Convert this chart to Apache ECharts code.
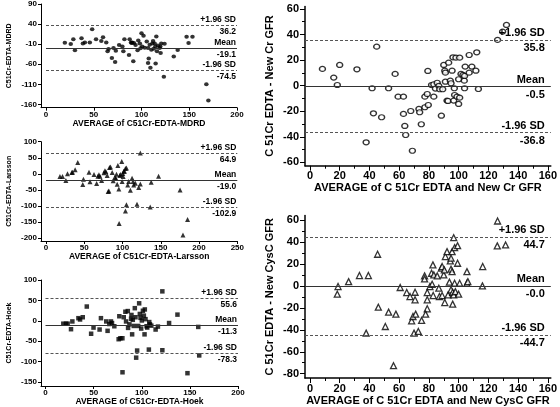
<!DOCTYPE html>
<html><head><meta charset="utf-8">
<script src="https://cdn.jsdelivr.net/npm/echarts@6/dist/echarts.min.js"></script>
<style>html,body{margin:0;padding:0;background:#fff}#c{width:560px;height:407px}</style>
</head><body><div id="c"></div>
<script>
// ---------- data ----------
const mdrdPoints = [[19.7,-6.4],[25.9,-9.7],[28.6,2.6],[30.3,-25.3],[37.2,5.0],[38.6,-8.1],[40.7,-5.6],[45.9,-5.6],[48.3,27.2],[52.4,2.6],[57.9,-2.3],[59.7,7.5],[63.1,-5.6],[64.5,-27.8],[65.5,-22.0],[69.0,-44.2],[70.7,-19.6],[72.4,-54.0],[73.1,-26.1],[76.6,-12.2],[80.0,-15.5],[81.0,-27.8],[82.1,2.6],[86.9,-36.8],[87.6,2.6],[89.0,-5.6],[89.7,-7.3],[90.3,-5.6],[91.4,-52.4],[92.1,-7.3],[93.8,-12.2],[95.9,-25.3],[96.6,-0.7],[98.3,-8.1],[99.0,-20.4],[100.0,17.3],[100.7,-15.5],[102.1,10.8],[103.4,-18.7],[105.5,-3.2],[106.9,-56.5],[106.9,-19.6],[107.6,-45.8],[108.6,-11.4],[109.3,-68.8],[110.3,-23.7],[111.4,-8.1],[112.1,-2.3],[112.8,-21.2],[113.8,-8.1],[114.5,-15.5],[114.8,-58.1],[115.5,9.1],[116.2,-27.8],[117.2,-13.0],[119.0,-19.6],[119.7,-15.5],[120.0,-31.9],[120.7,-8.1],[124.1,-8.9],[123.4,-90.9],[133.8,-40.9],[137.9,-24.5],[147.2,8.3],[149.3,-7.3],[153.4,8.3],[167.9,-109.8],[170.0,-150.0]];
const larssonPoints = [[18.2,-8.1],[21.6,-8.1],[26.0,-20.6],[28.1,0.3],[33.7,4.5],[34.6,5.5],[38.1,12.8],[41.5,35.7],[48.9,-16.4],[48.0,-33.0],[56.2,5.5],[57.5,-24.7],[62.7,-1.8],[66.2,-29.9],[67.9,-7.0],[69.2,-2.8],[70.5,-7.0],[72.7,-20.6],[75.7,3.4],[77.0,9.7],[78.3,6.5],[80.0,-4.9],[81.3,-55.0],[82.2,-52.9],[83.0,20.1],[84.3,21.1],[86.5,4.5],[87.8,-21.6],[90.0,-10.1],[91.3,-13.3],[92.1,-0.8],[93.0,-32.0],[93.9,26.3],[95.2,-46.6],[95.6,-154.0],[96.5,-4.9],[97.3,-1.8],[99.0,38.8],[99.5,-23.7],[100.3,1.3],[100.8,-8.1],[101.6,8.6],[102.5,8.6],[103.8,17.0],[103.8,-115.4],[105.1,18.0],[105.1,-95.6],[106.8,-34.1],[108.1,-23.7],[110.3,-50.8],[112.5,-13.3],[113.8,-23.7],[114.6,-34.1],[116.8,-28.9],[118.9,-94.6],[121.1,-42.4],[123.3,-31.0],[123.3,64.9],[137.5,-25.8],[136.2,-102.9],[147.1,-7.0],[175.2,-50.0],[185.0,-141.5],[179.0,-190.0]];
const hoekPoints = [[18.5,-7.0],[21.3,-7.0],[23.0,-7.0],[26.5,-20.5],[27.9,-1.5],[34.2,6.5],[35.9,3.3],[38.7,8.8],[42.9,35.0],[47.4,-31.6],[49.9,-16.5],[56.2,-21.3],[57.6,6.5],[63.1,-1.5],[64.5,-24.5],[66.3,-7.8],[68.0,-1.5],[69.1,-5.4],[71.5,-13.3],[76.0,-45.0],[76.7,11.2],[77.8,-42.7],[79.9,-42.7],[81.3,8.8],[83.0,22.3],[83.7,-1.5],[85.5,23.9],[85.8,-17.3],[87.2,-8.6],[88.9,4.9],[89.3,14.4],[90.0,-33.1],[90.7,2.5],[91.7,-12.5],[92.8,31.0],[93.5,8.8],[94.2,-90.2],[95.2,-72.8],[96.3,-12.5],[97.3,42.9],[98.0,16.8],[98.7,7.3],[99.4,-18.9],[100.1,0.9],[101.2,24.7],[102.2,12.8],[102.9,-33.1],[103.2,27.9],[103.9,4.1],[105.0,-13.3],[105.7,-16.5],[107.4,-70.4],[107.8,-3.0],[108.5,-8.6],[109.9,-11.8],[114.4,-21.3],[116.8,-14.1],[121.4,72.2],[121.4,-72.0],[128.4,-5.4],[137.1,15.2],[147.5,-128.2],[158.7,-14.9],[159.7,-84.7],[80.0,-126.0]];
const newCrPoints = [[8.4,13.1],[16.0,6.3],[18.4,0.5],[20.0,16.2],[31.6,12.8],[44.9,30.5],[41.8,-2.0],[42.7,-21.6],[48.2,-24.7],[52.9,-2.0],[57.3,9.2],[59.3,-8.6],[62.9,-8.6],[62.9,-22.1],[63.8,-31.5],[64.4,-38.6],[37.8,-44.3],[68.9,-50.9],[67.8,-19.8],[73.3,-18.2],[73.8,-20.8],[74.9,-30.2],[77.3,-16.9],[77.3,-8.6],[79.3,11.5],[78.9,-6.5],[79.6,-15.1],[81.8,0.5],[83.3,1.1],[84.4,-2.3],[83.3,-8.6],[85.6,2.3],[86.7,-0.2],[87.3,-2.8],[89.3,-2.8],[88.4,-23.5],[90.0,16.2],[90.7,11.7],[91.1,10.2],[91.1,3.1],[92.2,-11.7],[92.9,-12.0],[93.3,18.0],[94.4,3.9],[94.9,1.9],[95.6,11.7],[96.2,22.2],[96.7,-11.7],[97.1,-2.0],[97.3,-7.3],[98.2,21.9],[98.9,-8.6],[100.0,5.0],[100.7,21.9],[100.7,-9.4],[100.0,-14.3],[101.6,9.2],[102.9,8.4],[103.8,3.9],[104.0,-2.0],[104.0,7.6],[104.4,14.9],[107.1,24.0],[107.1,10.2],[108.9,14.9],[111.6,11.7],[112.2,26.1],[113.3,-2.6],[126.2,35.8],[129.6,42.3],[132.2,47.5]];
const newCysCPoints = [[18.9,-0.6],[18.4,-7.6],[26.0,3.9],[33.3,9.4],[39.3,9.4],[37.8,-43.0],[45.5,28.8],[46.0,-19.4],[50.7,-37.0],[52.9,-23.9],[56.2,-72.7],[57.8,-25.7],[60.7,-1.5],[65.1,-6.1],[67.3,-9.7],[68.4,-31.8],[69.3,-27.9],[70.7,-5.8],[70.7,-12.7],[71.1,-25.7],[70.0,-43.0],[72.9,-41.5],[75.1,-31.5],[77.1,9.1],[77.1,6.4],[78.9,-6.1],[78.9,-12.7],[78.9,-20.9],[77.8,-25.7],[80.7,-0.6],[81.8,11.5],[82.2,1.5],[82.7,19.1],[82.9,-8.8],[83.3,10.0],[85.6,9.1],[86.7,-2.1],[87.1,-9.7],[88.4,16.1],[88.9,17.6],[88.9,-8.8],[90.0,10.0],[90.4,14.5],[90.7,-15.2],[91.1,26.7],[92.2,31.2],[92.9,-8.2],[93.8,3.4],[94.4,22.7],[94.9,25.2],[94.9,15.2],[94.9,-3.6],[95.6,31.2],[95.6,13.0],[96.0,-5.8],[96.0,-16.6],[96.7,43.9],[96.7,-8.2],[97.3,34.8],[97.3,2.4],[97.8,-5.2],[99.3,20.6],[99.3,36.6],[100.0,-7.6],[100.7,2.4],[105.6,13.0],[105.6,2.4],[106.2,3.9],[116.2,17.6],[116.0,0.0],[126.0,36.4],[131.6,37.3],[126.2,59.1]];

// limits: [+1.96 SD, mean, -1.96 SD]
const mdrdLimits = [36.2, -19.1, -74.5];
const larssonLimits = [64.9, -19.0, -102.9];
const hoekLimits = [55.6, -11.3, -78.3];
const newCrLimits = [35.8, -0.5, -36.8];
const newCysCLimits = [44.7, -0.04, -44.7];
const limitNames = ['+1.96 SD', 'Mean', '-1.96 SD'];

// tick labels
const mdrdXTicks = [0, 50, 100, 150, 200];
const mdrdYTicks = [-160, -110, -60, -10, 40, 90];
const larssonXTicks = [0, 50, 100, 150, 200, 250];
const larssonYTicks = [-200, -150, -100, -50, 0, 50, 100];
const hoekXTicks = [0, 50, 100, 150, 200];
const hoekYTicks = [-150, -100, -50, 0, 50, 100];
const rightXTicks = [0, 20, 40, 60, 80, 100, 120, 140, 160];
const rightXMinor = [10, 30, 50, 70, 90, 110, 130, 150];
const newCrYTicks = [-60, -40, -20, 0, 20, 40, 60];
const newCrYMinor = [-50, -30, -10, 10, 30, 50];
const newCysCYTicks = [-80, -60, -40, -20, 0, 20, 40, 60];
const newCysCYMinor = [-70, -50, -30, -10, 10, 30, 50];

// axis titles
const xNames = ['AVERAGE of C51Cr-EDTA-MDRD', 'AVERAGE of C51Cr-EDTA-Larsson', 'AVERAGE of C51Cr-EDTA-Hoek',
  'AVERAGE of C 51Cr EDTA and New Cr GFR', 'AVERAGE of C 51Cr EDTA and New CysC GFR'];
const yNames = ['C51Cr-EDTA-MDRD', 'C51Cr-EDTA-Larsson', 'C51Cr-EDTA-Hoek',
  'C 51Cr EDTA - New Cr GFR', 'C 51Cr EDTA - New CysC GFR'];

// ---------- layout ----------
const FONT = "'Liberation Sans', Arial, sans-serif";
const NARROW = "'Liberation Sans Narrow', 'Liberation Sans', Arial, sans-serif";
const grids = [
  {left: 41, top: 4, width: 196, height: 103.7},
  {left: 41, top: 141.7, width: 196.3, height: 99.3},
  {left: 41, top: 280, width: 197, height: 108.3},
  {left: 305, top: 6.4, width: 248, height: 159.3},
  {left: 305, top: 215.6, width: 248, height: 162.7}
];
const xRanges = [[-5.24, 200], [-6.53, 250], [-4.68, 200], [-3.33, 162], [-3.33, 162]];
const yRanges = [[-168, 90], [-208.4, 100], [-159.6, 100], [-62.6, 62], [-83.9, 64]];
const xTickSets = [mdrdXTicks, larssonXTicks, hoekXTicks, rightXTicks, rightXTicks];
const yTickSets = [mdrdYTicks, larssonYTicks, hoekYTicks, newCrYTicks, newCysCYTicks];

const xAxes = [], yAxes = [];
for (let i = 0; i < 5; i++) {
  const right = i >= 3;
  const fs = right ? 11 : 8;
  const lw = right ? 1.5 : 1;
  xAxes.push({
    type: 'value', gridIndex: i, min: xRanges[i][0], max: xRanges[i][1], position: 'bottom',
    splitLine: {show: false},
    axisLine: {show: true, onZero: false, lineStyle: {color: '#000', width: lw}},
    axisTick: {show: true, inside: false, length: right ? 5 : 3, customValues: xTickSets[i], lineStyle: {color: '#000', width: 1}},
    axisLabel: {customValues: xTickSets[i], fontSize: fs, fontWeight: 'bold', color: '#000', fontFamily: FONT, margin: right ? 5 : 3},
    name: xNames[i], nameLocation: 'middle', nameGap: right ? 17 : 11, nameMoveOverlap: false,
    nameTextStyle: {fontSize: right ? 11 : 8.5, fontWeight: 'bold', color: '#000', fontFamily: FONT}
  });
  yAxes.push({
    type: 'value', gridIndex: i, min: yRanges[i][0], max: yRanges[i][1], position: 'left',
    splitLine: {show: false},
    axisLine: {show: true, onZero: false, lineStyle: {color: '#000', width: lw}},
    axisTick: {show: true, inside: false, length: right ? 5 : 3, customValues: yTickSets[i], lineStyle: {color: '#000', width: 1}},
    axisLabel: {customValues: yTickSets[i], fontSize: fs, fontWeight: 'bold', color: '#000', fontFamily: FONT, margin: right ? 6 : 4},
    name: yNames[i], nameLocation: 'middle', nameGap: right ? 30 : 28, nameMoveOverlap: false,
    nameTextStyle: {fontSize: right ? 11 : 7, fontWeight: 'bold', color: '#000', fontFamily: right ? FONT : NARROW}
  });
}
// minor tick axes for right panels
const minorX = [rightXMinor, rightXMinor], minorY = [newCrYMinor, newCysCYMinor];
for (let k = 0; k < 2; k++) {
  const i = 3 + k;
  xAxes.push({type: 'value', gridIndex: i, min: xRanges[i][0], max: xRanges[i][1], position: 'bottom', splitLine: {show: false},
    axisLine: {show: true, onZero: false, lineStyle: {color: 'rgba(0,0,0,0)'}},
    axisLabel: {show: true, customValues: minorX[k], formatter: () => ''},
    axisTick: {show: true, inside: false, length: 3, customValues: minorX[k], lineStyle: {color: '#000', width: 1}}});
  yAxes.push({type: 'value', gridIndex: i, min: yRanges[i][0], max: yRanges[i][1], position: 'left', splitLine: {show: false},
    axisLine: {show: true, onZero: false, lineStyle: {color: 'rgba(0,0,0,0)'}},
    axisLabel: {show: true, customValues: minorY[k], formatter: () => ''},
    axisTick: {show: true, inside: false, length: 3, customValues: minorY[k], lineStyle: {color: '#000', width: 1}}});
}

function limitLines(i, vals) {
  const right = i >= 3;
  const x0 = right ? xRanges[i][0] : 0, x1 = xRanges[i][1];
  const dx = right ? 6 : 1;
  const data = [];
  vals.forEach((v, k) => {
    const ls = k === 1 ? {type: 'solid', color: '#333', width: 1} : {type: [3, 2], color: '#555', width: 1};
    data.push([{xAxis: x0, yAxis: v, lineStyle: ls,
      label: {formatter: limitNames[k], position: 'insideEndTop', distance: [dx, 1]}}, {xAxis: x1, yAxis: v}]);
    data.push([{xAxis: x0, yAxis: v, lineStyle: {color: 'rgba(0,0,0,0)', width: 0},
      label: {formatter: v.toFixed(1), position: 'insideEndBottom', distance: [dx, right ? 3 : 2], color: '#000'}}, {xAxis: x1, yAxis: v}]);
  });
  return {silent: true, symbol: 'none', animation: false,
    label: {fontSize: right ? 11 : 8.5, fontWeight: 'bold', color: '#000', fontFamily: FONT}, data};
}

const pointSets = [mdrdPoints, larssonPoints, hoekPoints, newCrPoints, newCysCPoints];
const limitSets = [mdrdLimits, larssonLimits, hoekLimits, newCrLimits, newCysCLimits];
const symbols = ['circle', 'triangle', 'rect', 'circle', 'triangle'];
const sizes = [[4.5, 4], 5, 4.5, [6, 5], 6];
const series = pointSets.map((pts, i) => ({
  type: 'scatter', xAxisIndex: i, yAxisIndex: i, data: pts,
  symbol: symbols[i], symbolSize: sizes[i],
  itemStyle: i >= 3 ? {color: '#fff', borderColor: '#000', borderWidth: 1.3} : {color: '#000'},
  emphasis: {disabled: true}, silent: true,
  markLine: limitLines(i, limitSets[i])
}));

const chart = echarts.init(document.getElementById('c'), null, {renderer: 'canvas'});
chart.setOption({
  animation: false, backgroundColor: '#fff',
  grid: grids, xAxis: xAxes, yAxis: yAxes, series
});
</script></body></html>
